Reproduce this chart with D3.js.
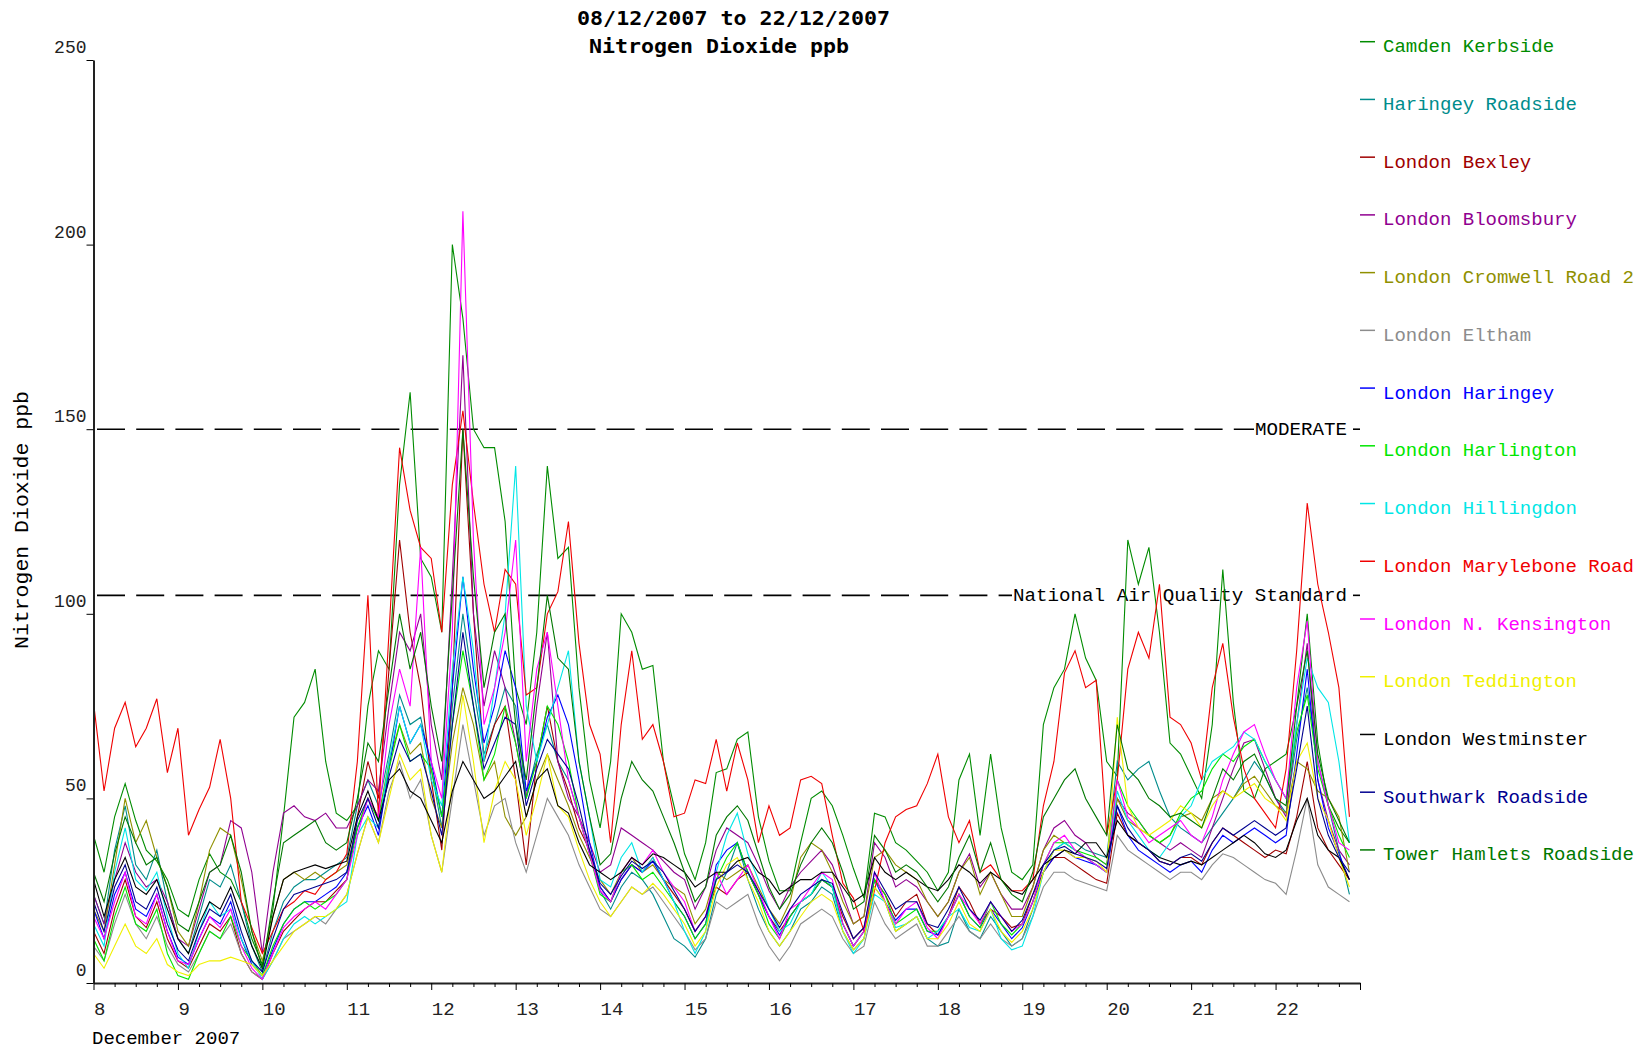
<!DOCTYPE html>
<html>
<head>
<meta charset="utf-8">
<script src="https://cdn.jsdelivr.net/npm/d3@7"></script>
<style>
body { margin: 0; background: #fff; }
svg text { font-family: "Liberation Mono", "Courier New", monospace; }
</style>
</head>
<body>
<script>
// hourly readings sampled every 3 hours from 08/12/2007 00:00
var stations = ["Camden Kerbside", "Haringey Roadside", "London Bexley", "London Bloomsbury",
    "London Cromwell Road 2", "London Eltham", "London Haringey", "London Harlington",
    "London Hillingdon", "London Marylebone Road", "London N. Kensington", "London Teddington",
    "London Westminster", "Southwark Roadside", "Tower Hamlets Roadside"];

var camdenKerbside = [
    40,30,45,54,44,36,33,28, 20,18,28,35,30,28,22,12, 5,20,45,72,76,85,60,46,
    44,48,75,90,85,135,160,115, 110,95,200,180,150,145,145,125, 80,70,95,140,115,118,80,55,
    42,60,100,95,85,86,60,48, 35,28,38,57,58,66,68,45, 33,25,25,38,50,52,48,40,
    31,23,46,45,38,36,33,30, 25,30,55,62,40,62,42,30, 28,32,70,80,85,100,88,82,
    60,56,120,108,118,95,65,62, 56,50,70,112,76,52,50,58, 60,62,75,100,65,48,42,38];
var haringeyRoadside = [
    24,16,36,48,32,28,36,22, 12,8,18,28,26,32,22,10, 3,14,22,26,28,28,30,32,
    34,48,55,48,62,78,70,72, 58,42,75,100,80,62,70,80, 75,50,62,70,60,55,45,35,
    25,20,26,30,28,24,18,12, 10,7,12,24,30,38,28,20, 14,10,14,20,22,26,24,14,
    9,12,26,22,14,16,18,12, 10,11,20,14,12,18,14,10, 12,20,30,36,38,38,36,35,
    34,60,55,58,60,52,45,42, 40,38,42,46,50,55,60,56, 50,46,66,80,60,48,36,24];
var londonBexley = [
    14,8,20,28,18,15,22,12, 6,4,10,16,14,18,8,3, 1,8,14,17,20,22,22,25,
    28,45,60,50,85,120,95,80, 55,36,80,150,100,60,70,75, 55,32,60,75,60,52,42,36,
    26,22,28,32,30,34,28,24, 20,14,18,26,24,28,30,24, 18,14,18,22,24,28,26,18,
    12,15,28,24,18,22,24,16, 13,18,26,22,16,20,18,15, 16,24,30,34,34,32,30,28,
    27,46,40,38,36,33,32,34, 34,32,38,42,40,38,36,34, 36,35,45,60,42,36,32,28];
var londonBloomsbury = [
    24,16,28,38,30,26,28,22, 12,10,20,30,32,44,42,30, 8,30,46,48,45,44,46,42,
    42,48,55,52,75,95,90,100, 70,55,110,170,100,75,90,80, 65,50,75,95,60,50,45,38,
    30,32,42,40,38,36,33,30, 28,20,26,36,42,40,38,32, 25,20,26,30,33,36,32,24,
    16,18,38,34,26,28,26,22, 18,22,30,35,26,30,24,20, 20,26,36,42,44,40,38,34,
    32,50,46,44,40,38,36,38, 36,34,42,50,58,65,66,58, 50,45,70,92,55,44,36,32];
var londonCromwellRoad = [
    20,14,32,50,38,44,34,26, 14,10,22,36,42,40,28,14, 6,18,28,30,28,30,28,30,
    32,42,50,45,60,70,62,65, 50,42,65,80,70,55,60,45, 40,45,55,62,55,48,40,34,
    28,24,30,34,30,32,28,26, 24,16,20,30,28,30,32,26, 20,16,22,34,38,36,30,22,
    16,18,34,36,32,30,28,22, 18,22,30,34,24,30,24,18, 18,26,36,40,38,36,34,32,
    30,50,44,42,40,38,40,45, 46,44,50,52,50,54,56,52, 48,46,60,58,52,50,45,30];
var londonEltham = [
    10,6,16,24,16,12,18,10, 5,3,8,14,12,16,8,3, 1,6,12,14,16,18,16,20,
    24,35,45,38,52,60,50,55, 40,30,50,70,55,40,48,50, 38,30,40,50,45,40,32,26,
    20,18,22,26,24,26,22,18, 14,9,12,22,20,22,24,16, 10,6,10,16,18,20,18,12,
    8,10,22,16,12,14,16,10, 10,14,18,14,12,16,12,10, 12,18,26,30,30,28,27,26,
    25,40,36,34,32,30,28,30, 30,28,32,35,34,32,30,28, 27,24,36,50,32,26,24,22];
var londonHaringey = [
    20,12,24,30,20,18,24,14, 7,5,12,18,16,22,12,5, 2,9,16,20,22,22,24,26,
    30,42,48,40,58,75,65,70, 60,45,80,110,85,65,75,90, 80,52,60,72,78,70,55,38,
    26,22,28,32,30,33,28,22, 18,12,16,32,36,38,30,24, 18,13,18,22,24,28,26,16,
    10,14,28,22,17,20,20,14, 13,18,24,18,15,20,16,12, 15,22,30,34,36,34,33,32,
    30,48,40,36,34,32,30,32, 33,30,36,40,38,40,42,40, 38,40,62,85,55,42,35,28];
var londonHarlington = [
    12,6,18,26,16,14,20,8, 2,1,8,14,12,18,10,6, 2,10,16,20,22,20,22,24,
    28,42,50,44,58,70,60,62, 58,45,70,90,75,55,62,75, 65,50,60,75,70,60,45,35,
    24,22,30,32,28,30,26,22, 18,12,16,28,34,38,30,24, 16,12,18,22,24,28,26,16,
    10,14,28,24,16,18,20,14, 14,18,24,18,15,22,16,13, 16,22,32,38,38,36,35,34,
    32,55,48,44,40,38,40,46, 50,52,58,62,60,64,66,60, 55,50,68,78,58,48,40,34];
var londonHillingdon = [
    16,10,30,42,28,25,30,18, 8,4,14,22,18,20,12,6, 1,6,12,16,18,16,18,20,
    22,40,45,42,60,75,65,70, 55,48,85,110,90,60,80,100, 140,75,60,70,80,90,60,45,
    28,26,34,38,30,34,28,22, 14,8,14,30,40,46,35,28, 20,14,16,22,24,30,26,14,
    8,12,24,22,15,16,18,12, 14,18,20,15,14,20,12,9, 10,18,30,36,38,36,34,32,
    30,52,44,40,36,34,38,45, 48,55,60,62,64,68,66,60, 55,50,70,88,80,76,60,38];
var londonMarylebone = [
    76,52,69,76,64,69,77,57, 69,40,47,53,66,50,22,15, 8,14,20,22,25,24,28,30,
    35,60,105,45,95,145,128,118, 115,95,135,155,130,108,95,112, 108,78,80,100,106,125,92,70,
    62,38,70,90,66,70,60,45, 46,55,54,66,52,65,55,38, 48,40,42,55,56,54,40,27,
    23,14,25,38,45,47,48,54, 62,45,38,44,30,32,28,25, 25,28,48,60,84,90,80,82,
    40,55,85,95,88,108,72,70, 65,55,80,92,72,58,50,46, 42,58,90,130,108,95,80,45];
var londonNKensington = [
    18,12,22,30,18,16,24,14, 6,5,12,18,15,20,10,4, 1,8,15,18,20,22,20,24,
    28,40,50,45,70,85,75,118, 60,50,95,209,120,70,80,95, 120,60,85,95,75,55,45,35,
    25,22,30,34,32,36,30,26, 22,14,18,30,24,28,32,25, 18,12,20,22,26,30,28,16,
    10,14,30,22,16,20,22,15, 12,18,24,20,16,22,18,14, 16,22,32,38,40,36,34,32,
    30,55,45,42,38,40,42,44, 40,38,45,55,62,68,70,62, 55,50,80,98,60,48,38,36];
var londonTeddington = [
    8,4,10,16,10,8,12,5, 3,2,5,6,6,7,6,5, 2,6,10,14,16,18,18,20,
    24,35,45,38,50,62,55,58, 40,30,55,78,60,38,52,60, 55,40,50,62,48,45,36,28,
    22,18,22,26,24,27,24,20, 16,10,14,26,32,34,28,22, 14,10,14,18,22,24,22,14,
    9,12,26,22,14,16,18,12, 12,16,22,16,14,20,14,11, 14,20,30,36,36,34,34,33,
    30,72,48,42,40,42,44,48, 46,42,48,52,50,52,54,50, 48,44,60,65,50,44,34,26];
var londonWestminster = [
    28,18,28,34,26,24,28,20, 12,8,16,22,20,26,18,10, 4,18,28,30,31,32,31,32,
    33,45,52,44,55,58,52,50, 44,38,52,60,55,50,52,56, 60,45,55,58,48,46,38,32,
    30,28,30,34,32,35,34,32, 30,26,28,30,30,33,34,30, 28,24,26,28,28,30,30,26,
    22,24,34,30,28,30,28,26, 25,28,32,30,27,30,28,25, 24,28,32,34,36,35,38,38,
    34,44,40,38,36,34,33,32, 33,32,34,36,38,40,38,35, 34,36,44,50,40,36,34,28];
var southwarkRoadside = [
    22,14,26,32,22,20,26,16, 9,6,14,20,18,24,14,6, 3,12,20,24,25,26,27,28,
    30,44,50,42,56,66,60,62, 52,40,70,95,75,58,65,72, 70,48,58,66,62,58,48,36,
    27,24,29,33,31,33,30,25, 20,14,18,28,30,32,30,25, 20,15,20,24,26,28,27,19,
    12,15,30,25,20,22,22,16, 15,20,26,20,17,22,18,14, 17,24,32,36,37,35,34,33,
    31,48,42,38,36,33,32,34, 35,33,38,42,40,42,44,42, 40,42,58,75,50,40,34,30];
var towerHamlets = [
    30,22,35,45,38,32,34,26, 16,14,22,30,32,40,30,14, 4,22,38,40,42,44,38,36,
    38,50,65,60,80,100,85,95, 75,60,105,150,110,80,95,100, 70,55,80,105,88,85,60,45,
    32,35,50,60,55,52,45,38, 30,22,26,40,45,48,44,35, 26,20,24,32,38,42,38,30,
    20,22,40,36,30,32,30,26, 22,26,34,40,30,38,28,24, 22,30,45,50,55,58,50,45,
    40,70,58,55,50,48,45,46, 44,42,50,58,55,60,62,56, 50,48,75,90,62,50,44,38];

var seriesValues = [camdenKerbside, haringeyRoadside, londonBexley, londonBloomsbury,
    londonCromwellRoad, londonEltham, londonHaringey, londonHarlington, londonHillingdon,
    londonMarylebone, londonNKensington, londonTeddington, londonWestminster,
    southwarkRoadside, towerHamlets];

var dayLabels = ["8","9","10","11","12","13","14","15","16","17","18","19","20","21","22"];
var yTicks = [0, 50, 100, 150, 200, 250];
var limitNames = ["MODERATE", "National Air Quality Standard"];
var limitValues = [150, 105];

var colors = ["#008c00", "#008c8c", "#a00000", "#900090", "#909000", "#8c8c8c", "#0000ff",
    "#00e600", "#00e6e6", "#f00000", "#ff00ff", "#f0f000", "#000000", "#000090", "#007800"];

var startDate = new Date(2007, 11, 8);
var endDate = new Date(2007, 11, 23);
var stepHours = 3;

var svg = d3.select("body").append("svg")
    .attr("width", 1648)
    .attr("height", 1049);

var x = d3.scaleTime().domain([startDate, endDate]).range([93.5, 1360]);
var y = d3.scaleLinear().domain([0, 250]).range([983, 60]);

// Title
svg.append("text")
    .attr("x", 577).attr("y", 25)
    .attr("textLength", 313).attr("lengthAdjust", "spacingAndGlyphs")
    .style("font-family", "'DejaVu Sans Mono', monospace")
    .style("font-weight", "bold").style("font-size", "20px")
    .text("08/12/2007 to 22/12/2007");
svg.append("text")
    .attr("x", 589).attr("y", 53)
    .attr("textLength", 260).attr("lengthAdjust", "spacingAndGlyphs")
    .style("font-family", "'DejaVu Sans Mono', monospace")
    .style("font-weight", "bold").style("font-size", "20px")
    .text("Nitrogen Dioxide ppb");

// Y axis title
svg.append("text")
    .attr("transform", "translate(28,520) rotate(-90)")
    .attr("text-anchor", "middle")
    .attr("textLength", 258).attr("lengthAdjust", "spacingAndGlyphs")
    .style("font-size", "21px")
    .text("Nitrogen Dioxide ppb");

// Limit lines
limitValues.forEach(function(v, i){
    var textStart = i == 0 ? 1255 : 1013;
    svg.append("line")
        .attr("x1", 97).attr("x2", textStart - 1)
        .attr("y1", y(v)).attr("y2", y(v))
        .attr("stroke", "#000").attr("stroke-width", 1.6)
        .attr("stroke-dasharray", "28,11.2");
    svg.append("line")
        .attr("x1", 1353).attr("x2", 1360)
        .attr("y1", y(v)).attr("y2", y(v))
        .attr("stroke", "#000").attr("stroke-width", 1.6);
    svg.append("text")
        .attr("x", textStart).attr("y", y(v) + 6)
        .attr("textLength", 1347 - textStart).attr("lengthAdjust", "spacingAndGlyphs")
        .style("font-size", "19px")
        .text(limitNames[i]);
});

// Series lines
var line = d3.line()
    .x(function(d, i){ return x(d3.timeHour.offset(startDate, i * stepHours)); })
    .y(function(d){ return y(d); });

seriesValues.forEach(function(vals, i){
    svg.append("path")
        .attr("d", line(vals))
        .attr("fill", "none")
        .attr("stroke", colors[i])
        .attr("stroke-width", 1.1);
});

// Y axis
var yAxis = svg.append("g")
    .attr("transform", "translate(93.5,0)")
    .call(d3.axisLeft(y).tickValues(yTicks).tickSize(7).tickSizeOuter(0));
yAxis.select(".domain").attr("stroke", "#222").attr("stroke-width", 2);
yAxis.selectAll("text")
    .attr("x", -7).attr("dy", "-0.42em")
    .style("font-family", "'Liberation Mono', monospace")
    .style("font-size", "18px").attr("fill", "#222");

// X axis
var xAxis = svg.append("g")
    .attr("transform", "translate(0,983)")
    .call(d3.axisBottom(x).ticks(d3.timeHour.every(6)).tickSize(4).tickSizeOuter(0)
        .tickFormat(function(d){
            return d.getHours() == 0 && d < endDate ? String(d.getDate()) : "";
        }));
xAxis.select(".domain").attr("stroke", "#222").attr("stroke-width", 2);
xAxis.selectAll(".tick line")
    .attr("y2", function(d){ return d.getHours() == 0 ? 7 : 4; });
xAxis.selectAll("text")
    .attr("x", 0).attr("y", 32).attr("dy", null)
    .attr("text-anchor", "start")
    .style("font-family", "'Liberation Mono', monospace")
    .style("font-size", "19px").attr("fill", "#222");

svg.append("text")
    .attr("x", 92).attr("y", 1044)
    .style("font-size", "19px")
    .text("December 2007");

// Legend
stations.forEach(function(name, i){
    var cy = 46.2 + i * 57.73;
    svg.append("line")
        .attr("x1", 1360).attr("x2", 1375)
        .attr("y1", cy - 4.5).attr("y2", cy - 4.5)
        .attr("stroke", colors[i]).attr("stroke-width", 1.5);
    svg.append("text")
        .attr("x", 1383).attr("y", cy + 6)
        .attr("fill", colors[i])
        .style("font-size", "19px")
        .text(name);
});
</script>
</body>
</html>
